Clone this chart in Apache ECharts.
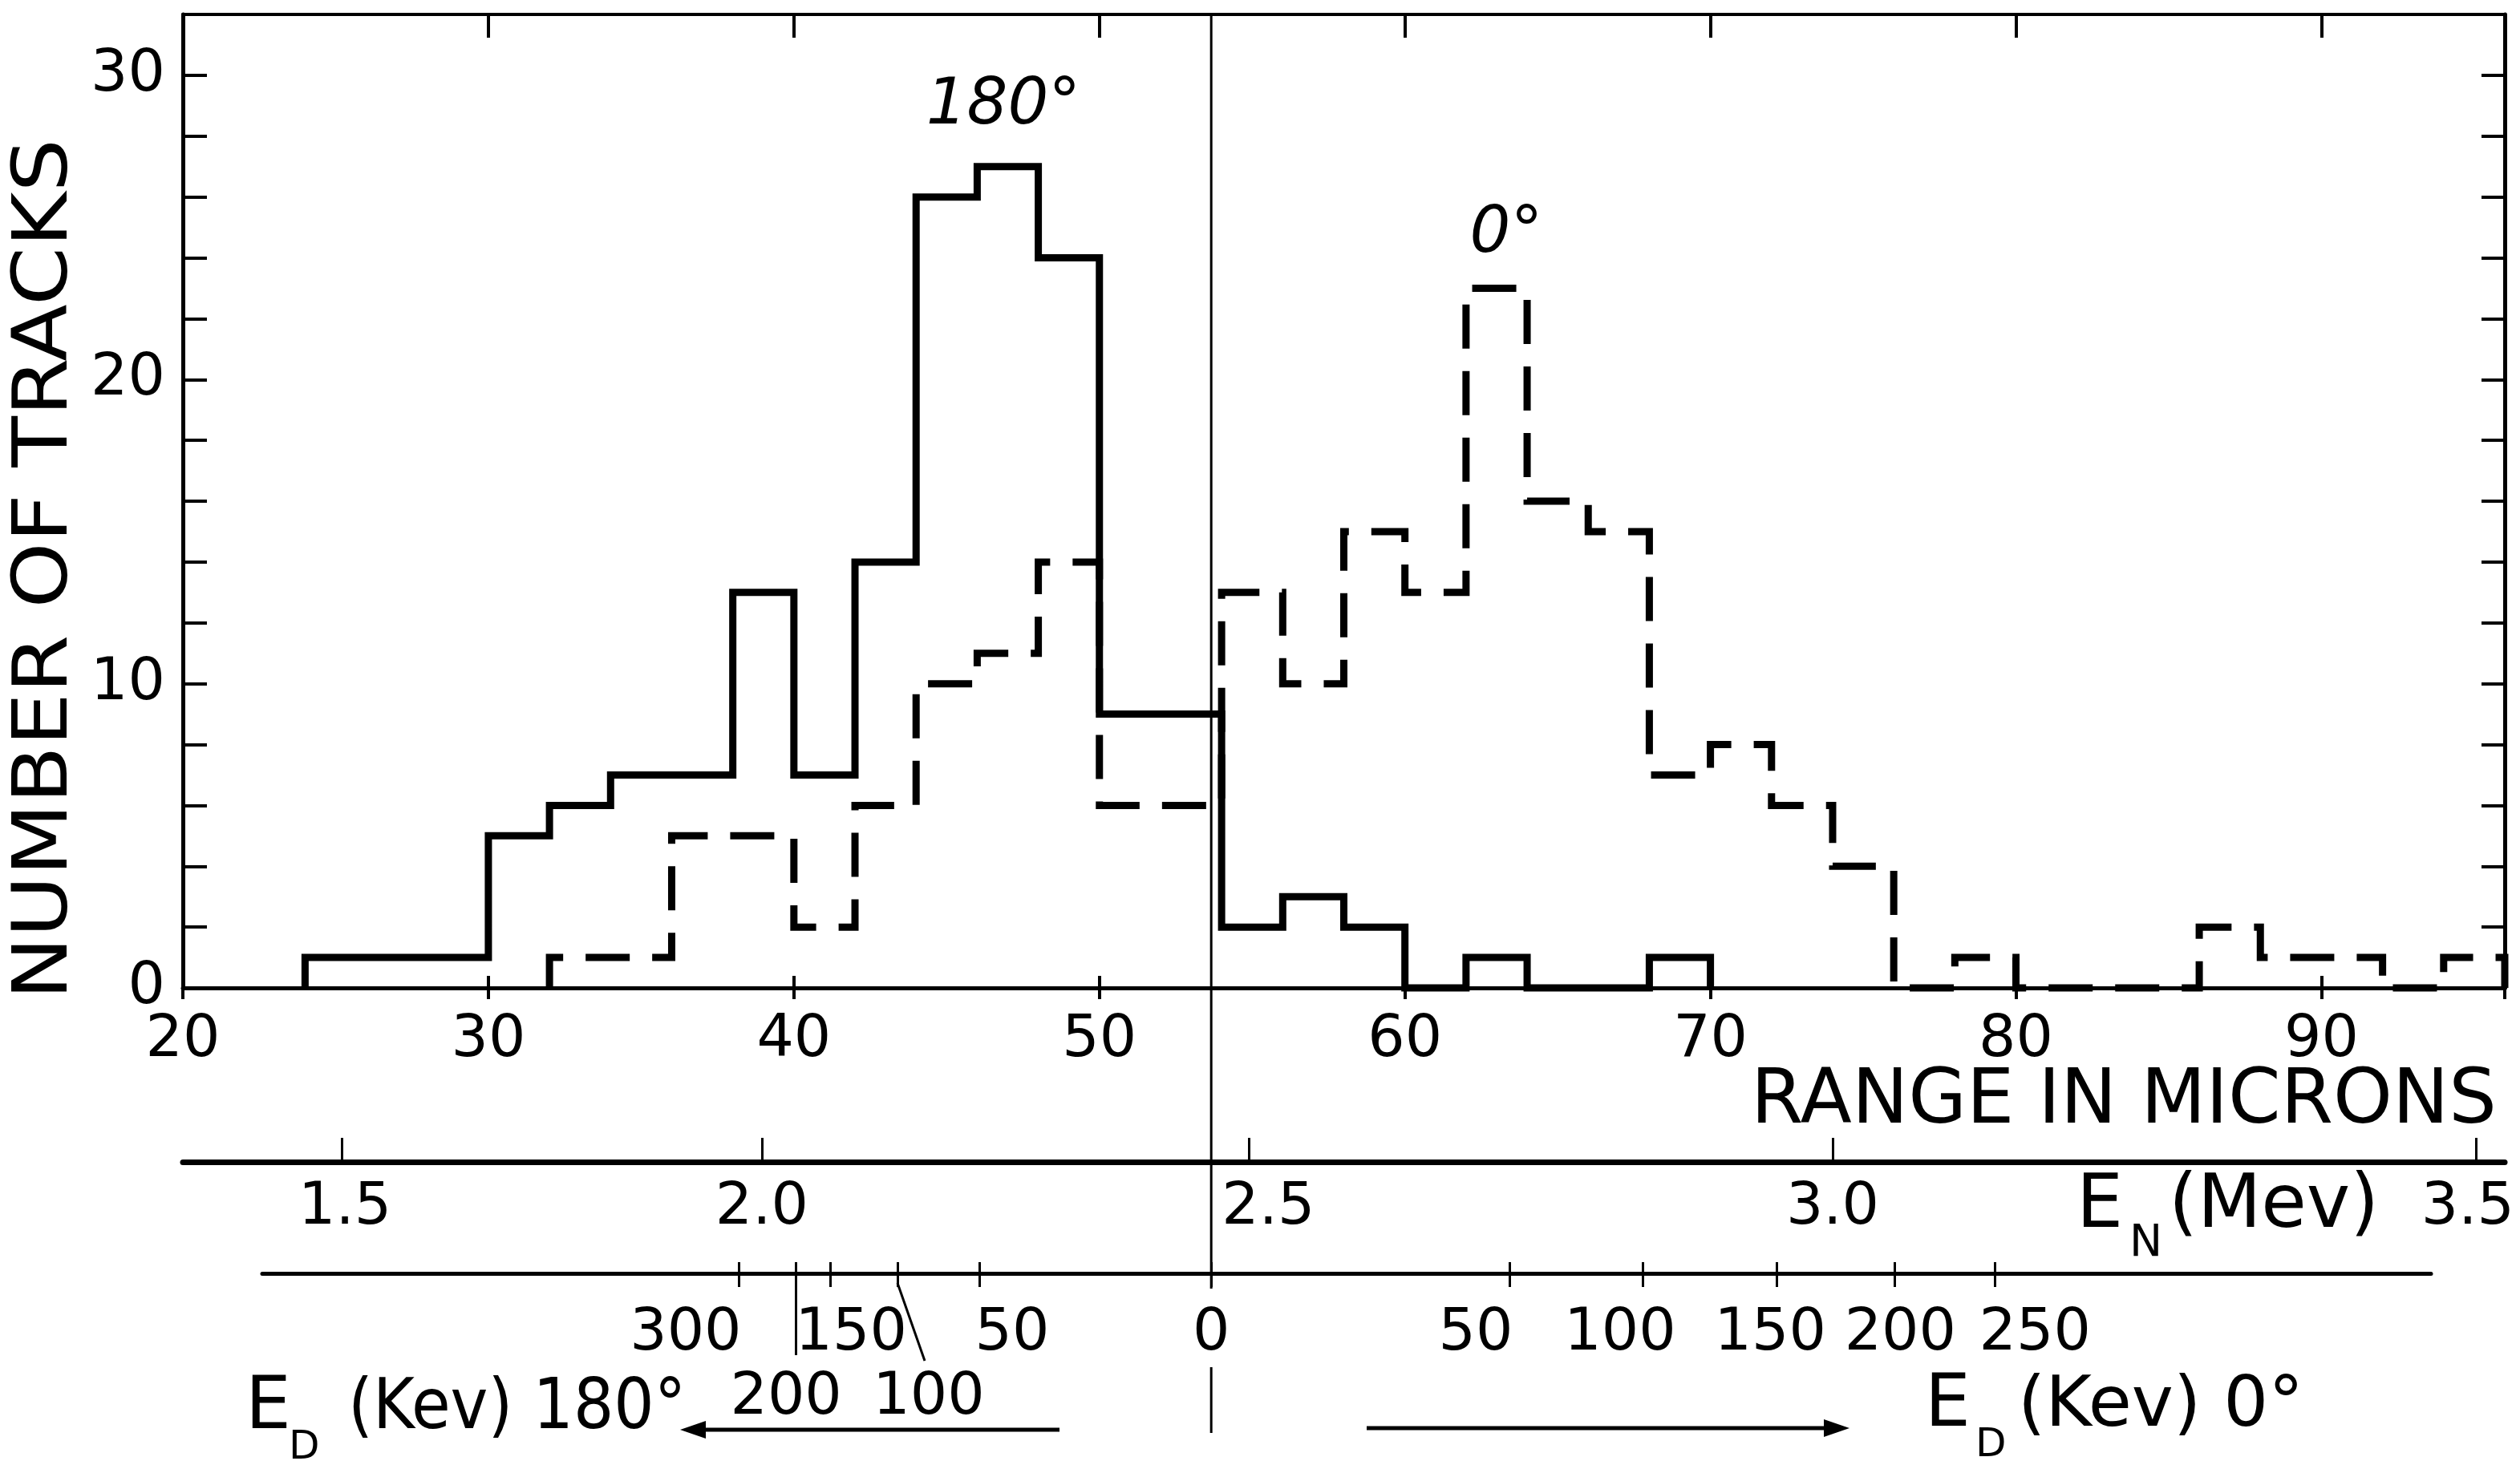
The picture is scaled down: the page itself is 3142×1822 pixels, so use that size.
<!DOCTYPE html>
<html><head><meta charset="utf-8">
<script src="https://cdn.jsdelivr.net/npm/echarts@6/dist/echarts.min.js"></script>
<style>html,body{margin:0;padding:0;background:#fff;} #c{width:3142px;height:1822px;}</style>
</head><body><div id="c"></div>
<script>
// ---------------- DATA ----------------
const binEdges = [20,22,24,26,28,30,32,34,36,38,40,42,44,46,48,50,52,54,56,58,60,62,64,66,68,70,72,74,76,78,80,82,84,86,88,90,92,94,96];
const tracks180 = [0,0,1,1,1,5,6,7,7,13,7,14,26,27,24,9,9,2,3,2,0,1,0,0,1,0,0,0,0,0,0,0,0,0,0,0,0,0];
const tracks0   = [0,0,0,0,0,0,1,1,5,5,2,6,10,11,14,6,6,13,10,15,13,23,16,15,7,8,6,4,0,1,0,0,0,2,1,1,0,1];
const rangeMin = 20, rangeMax = 96, rangeStep = 10;
const countMin = 0, countMax = 32, countStep = 2, countLabelStep = 10;
// neutron energy scale (MeV) at range positions (microns)
const enLabels  = ['1.5','2.0','2.5','3.0','3.5'];
const enMicrons = [25.2, 38.95, 54.9, 74.0, 95.05];
// deuteron energy scales (keV) at range positions (microns)
const ed180Labels  = ['300','200','150','100','50'];
const ed180Microns = [38.19, 40.06, 41.19, 43.39, 46.07];
const edZeroLabel = '0', edZeroMicron = 53.66;
const ed0Labels  = ['50','100','150','200','250'];
const ed0Microns = [63.42, 67.78, 72.17, 76.03, 79.31];

// ---------------- LAYOUT ----------------
const FONT = 'DejaVu Sans';
const G = {left: 228, right: 19, top: 18, bottom: 590};
const W = 3142, H = 1822;
const plotW = W - G.left - G.right;
const pxPerMicron = plotW / (rangeMax - rangeMin);
const edLineLeft = 327, edLineRight = 3031, edLineY = 1588;
const edMin = rangeMin + (edLineLeft - G.left) / pxPerMicron;
const edMax = rangeMax - ((W - edLineRight) - G.right) / pxPerMicron;
const ed180Row = [1,2,1,2,1];
const ed180Nudge = [-66,-12,26,39,41];
const ed0Nudge = [-42,-28,-8,7,50];
const enNudge = [4,0,24,0,-10];

function histPath(counts){
  let a = counts.findIndex(c => c > 0); let b = counts.length - 1;
  while (counts[b] === 0) b--;
  const pts = [[binEdges[a], 0]];
  for (let i = a; i <= b; i++) { pts.push([binEdges[i], counts[i]]); pts.push([binEdges[i+1], counts[i]]); }
  pts.push([binEdges[b+1], 0]);
  return pts;
}
function nudged(positions, labels, nudges, fontSize){
  const rich = {};
  nudges.forEach((n, i) => {
    rich['n' + i] = {fontSize, fontFamily: FONT, color: '#000', padding: [0, n < 0 ? -2*n : 0, 0, n > 0 ? 2*n : 0]};
  });
  return {rich, formatter: v => {
    const i = positions.findIndex(p => Math.abs(p - v) < 1e-6);
    return i < 0 ? '' : '{n' + i + '|' + labels[i] + '}';
  }};
}
const edRow1Pos = [], edRow1Lab = [], edRow1Nud = [], edRow2Pos = [], edRow2Lab = [], edRow2Nud = [];
ed180Microns.forEach((p, i) => {
  if (ed180Row[i] === 1) { edRow1Pos.push(p); edRow1Lab.push(ed180Labels[i]); edRow1Nud.push(ed180Nudge[i]); }
  else { edRow2Pos.push(p); edRow2Lab.push(ed180Labels[i]); edRow2Nud.push(ed180Nudge[i]); }
});
edRow1Pos.push(edZeroMicron); edRow1Lab.push(edZeroLabel); edRow1Nud.push(0);
ed0Microns.forEach((p, i) => { edRow1Pos.push(p); edRow1Lab.push(ed0Labels[i]); edRow1Nud.push(ed0Nudge[i]); });
const edTicks = ed180Microns.concat([edZeroMicron], ed0Microns);
const longTick = [ed180Microns[ed180Labels.indexOf('200')]];

const blk = '#000';
const lab = (fs, margin) => ({show: true, color: blk, fontFamily: FONT, fontSize: fs, margin});
const hidden = {show: false};

const chart = echarts.init(document.getElementById('c'), null, {renderer: 'canvas', width: W, height: H});
const en = nudged(enMicrons, enLabels, enNudge, 73);
const r1 = nudged(edRow1Pos, edRow1Lab, edRow1Nud, 73);
const r2 = nudged(edRow2Pos, edRow2Lab, edRow2Nud, 73);

chart.setOption({
  animation: false,
  backgroundColor: '#fff',
  grid: [
    Object.assign({outerBoundsMode: 'none', containLabel: false}, G),
    {left: edLineLeft, right: W - edLineRight, top: edLineY - 10, height: 10, outerBoundsMode: 'none', containLabel: false}
  ],
  xAxis: [
    {gridIndex: 0, type: 'value', position: 'bottom', min: rangeMin, max: rangeMax, interval: rangeStep,
     axisLine: {show: true, onZero: false, lineStyle: {color: blk, width: 5}},
     axisTick: {show: true, inside: true, length: 15, lineStyle: {color: blk, width: 4}},
     axisLabel: Object.assign(lab(73, 30), {showMaxLabel: false}), splitLine: hidden},
    {gridIndex: 0, type: 'value', position: 'bottom', min: rangeMin, max: rangeMax, interval: rangeStep,
     axisLine: {show: false, onZero: false}, axisTick: {show: true, inside: false, length: 14, lineStyle: {color: blk, width: 4}},
     axisLabel: hidden, splitLine: hidden},
    {gridIndex: 0, type: 'value', position: 'top', min: rangeMin, max: rangeMax, interval: rangeStep,
     axisLine: {show: true, onZero: false, lineStyle: {color: blk, width: 4}},
     axisTick: {show: true, inside: true, length: 29, lineStyle: {color: blk, width: 4}},
     axisLabel: hidden, splitLine: hidden},
    {gridIndex: 0, type: 'value', position: 'bottom', offset: 217, min: rangeMin, max: rangeMax,
     axisLine: {show: true, onZero: false, lineStyle: {color: blk, width: 7}},
     axisTick: {show: true, inside: true, length: 30, customValues: enMicrons, lineStyle: {color: blk, width: 3}},
     axisLabel: Object.assign(lab(73, 22), {customValues: enMicrons, formatter: en.formatter, rich: en.rich}),
     splitLine: hidden},
    {gridIndex: 1, type: 'value', position: 'bottom', min: edMin, max: edMax,
     axisLine: {show: true, onZero: false, lineStyle: {color: blk, width: 5}},
     axisTick: {show: true, inside: true, length: 14, customValues: edTicks, lineStyle: {color: blk, width: 3}},
     axisLabel: Object.assign(lab(73, 40), {customValues: edRow1Pos, formatter: r1.formatter, rich: r1.rich}),
     splitLine: hidden},
    {gridIndex: 1, type: 'value', position: 'bottom', min: edMin, max: edMax,
     axisLine: {show: false, onZero: false},
     axisTick: {show: true, inside: false, length: 17, customValues: edTicks, lineStyle: {color: blk, width: 3}},
     axisLabel: Object.assign(lab(73, 120), {customValues: edRow2Pos, formatter: r2.formatter, rich: r2.rich}),
     splitLine: hidden},
    {gridIndex: 1, type: 'value', position: 'bottom', min: edMin, max: edMax,
     axisLine: {show: false, onZero: false},
     axisTick: {show: true, inside: false, length: 102, customValues: longTick, lineStyle: {color: blk, width: 3}},
     axisLabel: hidden, splitLine: hidden}
  ],
  yAxis: [
    {gridIndex: 0, type: 'value', position: 'left', min: countMin, max: countMax, interval: countStep,
     axisLine: {show: true, onZero: false, lineStyle: {color: blk, width: 5}},
     axisTick: {show: true, inside: true, length: 30, lineStyle: {color: blk, width: 4}},
     axisLabel: Object.assign(lab(73, 22), {formatter: v => (v % countLabelStep === 0 ? String(v) : '')}),
     splitLine: hidden},
    {gridIndex: 0, type: 'value', position: 'right', min: countMin, max: countMax, interval: countStep,
     axisLine: {show: true, onZero: false, lineStyle: {color: blk, width: 5}},
     axisTick: {show: true, inside: true, length: 29, lineStyle: {color: blk, width: 4}},
     axisLabel: hidden, splitLine: hidden},
    {gridIndex: 1, type: 'value', show: false}
  ],
  series: [
    {name: '180°', type: 'line', xAxisIndex: 0, yAxisIndex: 0, data: histPath(tracks180), symbol: 'none', clip: false,
     lineStyle: {color: blk, width: 9, join: 'miter', cap: 'butt'}},
    {name: '0°', type: 'line', xAxisIndex: 0, yAxisIndex: 0, data: histPath(tracks0), symbol: 'none', clip: false,
     lineStyle: {color: blk, width: 9, type: [55, 28], join: 'miter', cap: 'butt'}}
  ]
});

// ---------------- ANNOTATIONS ----------------
const divX = chart.convertToPixel({xAxisIndex: 0}, edZeroMicron);
const lead100X = chart.convertToPixel({xAxisIndex: 4}, ed180Microns[ed180Labels.indexOf('100')]);
const txt = (text, x, y, fs, extra) => ({type: 'text', x, y, style: Object.assign({text, fill: blk, font: fs + 'px "' + FONT + '"', align: 'left', verticalAlign: 'middle'}, extra || {})});
const ln = (x1, y1, x2, y2, w) => ({type: 'line', shape: {x1, y1, x2, y2}, style: {stroke: blk, lineWidth: w}});
chart.setOption({graphic: [
  ln(divX, G.top, divX, 1607, 3),
  ln(divX, 1705, divX, 1787, 3),
  ln(lead100X, 1600, lead100X + 34, 1697, 3),
  Object.assign(txt('NUMBER OF TRACKS', 58, 710, 95, {align: 'center'}), {rotation: Math.PI / 2, scaleX: 1.1}),
  txt('RANGE IN MICRONS', 3113, 1376, 94, {align: 'right'}),
  txt('180°', 1251, 133, 80, {align: 'center', font: 'italic 80px "' + FONT + '"'}),
  txt('0°', 1878, 293, 80, {align: 'center', font: 'italic 80px "' + FONT + '"'}),
  txt('E', 2589, 1506, 92),
  txt('N', 2655, 1552, 55),
  txt('(Mev)', 2704, 1506, 92),
  txt('E', 306, 1758, 90),
  txt('D', 360, 1806, 50),
  Object.assign(txt('(Kev) 180°', 434, 1758, 88), {scaleX: 0.9}),
  txt('E', 2400, 1755, 90),
  txt('D', 2463, 1803, 50),
  txt('(Kev) 0°', 2516, 1755, 88),
  ln(875, 1783, 1321, 1783, 5),
  {type: 'polygon', shape: {points: [[848, 1783], [880, 1772], [880, 1794]]}, style: {fill: blk}},
  ln(1704, 1781, 2290, 1781, 5),
  {type: 'polygon', shape: {points: [[2306, 1781], [2274, 1770], [2274, 1792]]}, style: {fill: blk}}
]});
</script></body></html>
